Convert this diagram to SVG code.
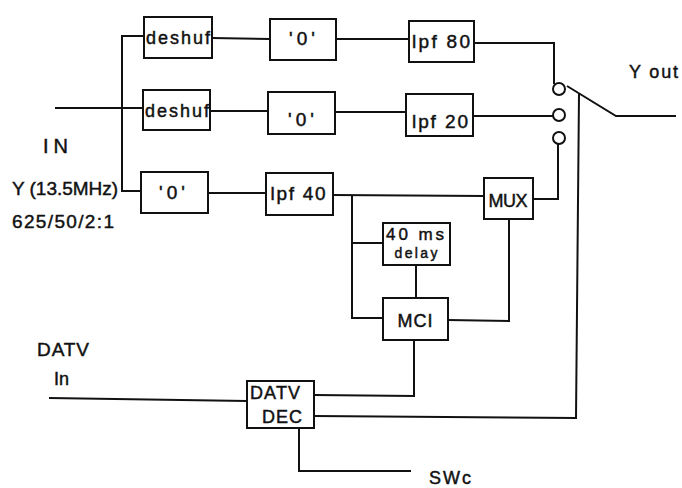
<svg xmlns="http://www.w3.org/2000/svg" width="682" height="488" viewBox="0 0 682 488">
<style>
.b{fill:#fff;stroke:#111;stroke-width:2}
.w{fill:none;stroke:#111;stroke-width:2;stroke-linejoin:miter}
.c{fill:#fff;stroke:#111;stroke-width:2}
text{font-family:"Liberation Sans",Arial,sans-serif;fill:#111;stroke:#111;stroke-width:0.45}
</style>
<rect width="682" height="488" fill="#fff"/>
<g id="connectors">
<polyline class="w" points="55,108 143,108"/>
<polyline class="w" points="144,36 122,36 122,191 141,191"/>
<polyline class="w" points="212,38 270,39"/>
<polyline class="w" points="336,39 409,39"/>
<polyline class="w" points="210,111 268,111"/>
<polyline class="w" points="335,112 406,112"/>
<polyline class="w" points="208,193 266,193"/>
<polyline class="w" points="333,195 484,196"/>
<polyline class="w" points="474,43 554,43 554,84"/>
<polyline class="w" points="473,116 553,116"/>
<polyline class="w" points="558,144 558,199 533,199"/>
<polyline class="w" points="567,86 616,116 676,116"/>
<polyline class="w" points="579,94 576,418 314,416"/>
<polyline class="w" points="352,195 352,318 383,318"/>
<polyline class="w" points="352,243 383,243"/>
<polyline class="w" points="416,265 416,298"/>
<polyline class="w" points="448,320 509,321 509,219"/>
<polyline class="w" points="414,340 414,396 314,395"/>
<polyline class="w" points="49,398 247,401"/>
<polyline class="w" points="299,428 299,471 411,471"/>
</g>
<g id="switch">
<circle class="c" cx="559" cy="89" r="6"/>
<circle class="c" cx="559" cy="115" r="6"/>
<circle class="c" cx="559" cy="138" r="6"/>
</g>
<g id="deshuf1"><rect class="b" x="144" y="17" width="68" height="41"/><text x="178" y="44" font-size="18" text-anchor="middle" textLength="64" lengthAdjust="spacing">deshuf</text></g>
<g id="deshuf2"><rect class="b" x="143" y="90" width="67" height="40"/><text x="177" y="117" font-size="18" text-anchor="middle" textLength="64" lengthAdjust="spacing">deshuf</text></g>
<g id="zero1"><rect class="b" x="270" y="19" width="66" height="41"/><text x="302" y="45" font-size="19" text-anchor="middle" textLength="26" lengthAdjust="spacing">'0'</text></g>
<g id="zero2"><rect class="b" x="268" y="92" width="67" height="42"/><text x="301" y="126" font-size="19" text-anchor="middle" textLength="26" lengthAdjust="spacing">'0'</text></g>
<g id="zero3"><rect class="b" x="141" y="172" width="67" height="41"/><text x="172" y="199" font-size="19" text-anchor="middle" textLength="26" lengthAdjust="spacing">'0'</text></g>
<g id="lpf80"><rect class="b" x="409" y="21" width="65" height="41"/><text x="441" y="48" font-size="19" text-anchor="middle" textLength="58" lengthAdjust="spacing">lpf 80</text></g>
<g id="lpf20"><rect class="b" x="406" y="94" width="67" height="42"/><text x="440" y="128" font-size="19" text-anchor="middle" textLength="56" lengthAdjust="spacing">lpf 20</text></g>
<g id="lpf40"><rect class="b" x="266" y="173" width="67" height="42"/><text x="298" y="200" font-size="19" text-anchor="middle" textLength="55" lengthAdjust="spacing">lpf 40</text></g>
<g id="mux"><rect class="b" x="484" y="178" width="49" height="41"/><text x="508" y="207" font-size="18" text-anchor="middle" textLength="39" lengthAdjust="spacing">MUX</text></g>
<g id="delay"><rect class="b" x="383" y="223" width="67" height="42"/><text x="415" y="240" font-size="17" text-anchor="middle" textLength="58" lengthAdjust="spacing">40 ms</text><text x="416" y="258" font-size="14" text-anchor="middle" textLength="43" lengthAdjust="spacing">delay</text></g>
<g id="mci"><rect class="b" x="383" y="298" width="65" height="42"/><text x="415" y="327" font-size="18" text-anchor="middle" textLength="35" lengthAdjust="spacing">MCI</text></g>
<g id="datvdec"><rect class="b" x="247" y="381" width="67" height="47"/><text x="250" y="399" font-size="18" textLength="50" lengthAdjust="spacing">DATV</text><text x="282" y="423" font-size="18" text-anchor="middle" textLength="40" lengthAdjust="spacing">DEC</text></g>
<g id="labels">
<text x="43" y="153" font-size="20" textLength="25" lengthAdjust="spacing">IN</text>
<text x="12" y="195" font-size="19" textLength="106" lengthAdjust="spacing">Y (13.5MHz)</text>
<text x="12" y="228" font-size="19" textLength="102" lengthAdjust="spacing">625/50/2:1</text>
<text x="629" y="78" font-size="18" textLength="49" lengthAdjust="spacing">Y out</text>
<text x="37" y="356" font-size="19" textLength="52" lengthAdjust="spacing">DATV</text>
<text x="54" y="385" font-size="18" textLength="15" lengthAdjust="spacing">In</text>
<text x="429" y="484" font-size="18" textLength="42" lengthAdjust="spacing">SWc</text>
</g>
</svg>
